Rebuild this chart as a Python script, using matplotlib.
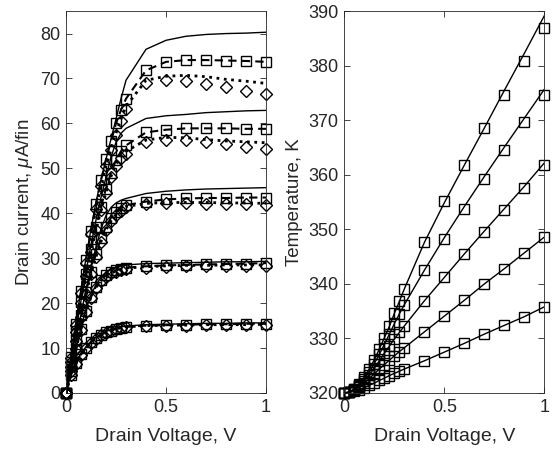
import matplotlib
matplotlib.use("Agg")
import matplotlib.pyplot as plt

plt.rcParams['font.family'] = ['Liberation Sans', 'DejaVu Sans']
plt.rcParams['mathtext.fontset'] = 'custom'
plt.rcParams['mathtext.it'] = 'Liberation Sans:italic'

# drain voltage sweep (V)
vd = [0, 0.025, 0.05, 0.075, 0.1, 0.125, 0.15, 0.175, 0.2, 0.225, 0.25, 0.275,
      0.3, 0.4, 0.5, 0.6, 0.7, 0.8, 0.9, 1.0]

# drain current (uA/fin), one entry per gate bias, lowest first
id_solid = [
    [0, 4.2, 6.8, 8.8, 10.3, 11.5, 12.4, 13.1, 13.7, 14.1, 14.5, 14.7, 14.9, 15.2, 15.3, 15.4, 15.5, 15.5, 15.6, 15.6],
    [0, 5.0, 10.0, 14.6, 18.6, 21.8, 24.1, 25.7, 26.8, 27.5, 28.0, 28.3, 28.5, 28.8, 28.9, 29.0, 29.1, 29.2, 29.2, 29.3],
    [0, 6.0, 12.0, 17.5, 23.0, 28.0, 32.5, 36.5, 39.5, 41.3, 42.3, 42.9, 43.3, 44.4, 44.9, 45.2, 45.4, 45.5, 45.6, 45.7],
    [0, 7.0, 14.0, 20.5, 27.0, 33.0, 38.5, 43.5, 48.0, 52.5, 55.8, 57.8, 58.9, 61.1, 61.7, 62.0, 62.4, 62.6, 62.8, 62.9],
    [0, 8.0, 15.5, 23.0, 30.0, 36.5, 42.5, 47.5, 52.0, 56.5, 61.0, 65.5, 69.6, 76.5, 78.5, 79.4, 79.8, 80.0, 80.1, 80.3],
]
id_square = [
    [0, 4.0, 6.6, 8.6, 10.1, 11.3, 12.2, 12.9, 13.5, 13.9, 14.3, 14.5, 14.7, 15.0, 15.1, 15.2, 15.3, 15.3, 15.4, 15.4],
    [0, 4.9, 9.8, 14.3, 18.3, 21.4, 23.7, 25.2, 26.2, 26.9, 27.3, 27.6, 27.9, 28.2, 28.4, 28.5, 28.6, 28.7, 28.8, 28.9],
    [0, 5.9, 11.8, 17.3, 22.5, 27.0, 31.0, 34.5, 37.0, 39.0, 40.3, 41.2, 41.8, 42.6, 43.1, 43.3, 43.4, 43.4, 43.5, 43.5],
    [0, 7.0, 13.8, 20.3, 26.5, 32.0, 37.0, 41.5, 45.5, 49.0, 51.8, 53.8, 55.1, 58.0, 58.6, 58.9, 58.9, 58.9, 58.8, 58.8],
    [0, 7.9, 15.3, 22.6, 29.5, 36.0, 42.0, 47.3, 52.0, 56.0, 60.0, 63.0, 65.5, 71.8, 73.7, 74.1, 74.1, 74.0, 73.9, 73.7],
]
id_diamond = [
    [0, 3.9, 6.5, 8.5, 10.0, 11.2, 12.1, 12.8, 13.4, 13.8, 14.2, 14.4, 14.6, 14.9, 15.0, 15.0, 15.1, 15.1, 15.1, 15.2],
    [0, 4.8, 9.7, 14.1, 18.1, 21.2, 23.4, 24.9, 25.9, 26.6, 27.0, 27.3, 27.6, 27.9, 28.1, 28.2, 28.2, 28.3, 28.3, 28.3],
    [0, 5.8, 11.6, 17.0, 22.0, 26.5, 30.3, 33.7, 36.3, 38.3, 39.6, 40.6, 41.3, 42.0, 42.2, 42.2, 42.1, 42.0, 42.0, 41.9],
    [0, 6.9, 13.6, 20.0, 26.0, 31.3, 36.2, 40.7, 44.5, 48.0, 50.5, 52.2, 53.2, 55.9, 56.4, 56.2, 55.9, 55.4, 54.8, 54.3],
    [0, 7.8, 15.1, 22.2, 29.0, 35.3, 41.0, 46.0, 50.5, 54.0, 57.5, 60.5, 63.3, 68.9, 69.6, 69.4, 68.7, 68.0, 67.2, 66.5],
]
id_dotted = [
    [0, 4.0, 6.6, 8.6, 10.1, 11.3, 12.2, 12.9, 13.5, 13.9, 14.3, 14.5, 14.7, 15.0, 15.1, 15.1, 15.2, 15.2, 15.2, 15.3],
    [0, 4.8, 9.8, 14.2, 18.2, 21.3, 23.5, 25.0, 26.0, 26.7, 27.1, 27.4, 27.8, 28.1, 28.3, 28.4, 28.4, 28.5, 28.5, 28.5],
    [0, 5.8, 11.6, 17.0, 22.0, 26.5, 30.3, 33.7, 36.3, 38.3, 39.7, 40.8, 41.5, 42.2, 42.4, 42.4, 42.4, 42.3, 42.3, 42.2],
    [0, 6.9, 13.6, 20.0, 26.0, 31.3, 36.2, 40.7, 44.6, 48.2, 50.9, 52.8, 53.8, 56.3, 56.9, 56.8, 56.4, 56.1, 55.9, 55.7],
    [0, 7.8, 15.1, 22.2, 29.0, 35.3, 41.0, 46.0, 50.5, 54.2, 57.8, 61.0, 63.8, 69.6, 70.5, 70.7, 70.4, 69.8, 69.4, 68.9],
]

# temperature (K)
temp_line = [
    [320, 320.1, 320.3, 320.6, 321.0, 321.4, 321.8, 322.3, 322.7, 323.2, 323.6, 324.0, 324.4, 325.9, 327.5, 329.1, 330.8, 332.4, 334.0, 335.8],
    [320, 320.1, 320.5, 321.1, 321.8, 322.7, 323.5, 324.4, 325.2, 326.0, 326.8, 327.6, 328.3, 331.2, 334.1, 337.0, 340.0, 342.8, 345.7, 348.6],
    [320, 320.1, 320.6, 321.3, 322.2, 323.3, 324.6, 325.9, 327.3, 328.6, 329.9, 331.1, 332.3, 336.9, 341.2, 345.5, 349.7, 353.8, 357.9, 362.2],
    [320, 320.2, 320.7, 321.5, 322.6, 323.9, 325.4, 327.1, 328.9, 330.8, 332.7, 334.5, 336.2, 342.5, 348.5, 354.2, 359.7, 365.1, 370.4, 375.7],
    [320, 320.2, 320.8, 321.7, 322.9, 324.4, 326.1, 328.1, 330.1, 332.2, 334.6, 336.8, 339.1, 347.6, 354.9, 361.8, 368.6, 375.5, 382.3, 389.2],
]
temp_square = [
    [320, 320.1, 320.3, 320.6, 321.0, 321.4, 321.8, 322.3, 322.7, 323.2, 323.6, 324.0, 324.4, 325.9, 327.5, 329.1, 330.8, 332.4, 334.0, 335.7],
    [320, 320.1, 320.5, 321.1, 321.8, 322.7, 323.5, 324.4, 325.2, 326.0, 326.8, 327.6, 328.3, 331.2, 334.1, 337.0, 340.0, 342.7, 345.6, 348.5],
    [320, 320.1, 320.6, 321.3, 322.2, 323.3, 324.6, 325.9, 327.3, 328.6, 329.9, 331.1, 332.3, 336.9, 341.2, 345.4, 349.5, 353.6, 357.6, 361.8],
    [320, 320.2, 320.7, 321.5, 322.6, 323.9, 325.4, 327.1, 328.9, 330.8, 332.7, 334.5, 336.2, 342.5, 348.3, 353.8, 359.2, 364.5, 369.6, 374.7],
    [320, 320.2, 320.8, 321.7, 322.9, 324.4, 326.1, 328.1, 330.1, 332.2, 334.6, 336.8, 339.1, 347.6, 355.1, 361.8, 368.5, 374.7, 380.9, 386.9],
]

axcol = '#262626'
mk = dict(markersize=7, markerfacecolor='none', markeredgecolor='k', markeredgewidth=1.0)

fig = plt.figure(figsize=(5.59, 4.53), dpi=100)
ax1 = fig.add_axes([0.118, 0.1325, 0.358, 0.843])
ax2 = fig.add_axes([0.616, 0.1325, 0.358, 0.843])

for k in range(5):
    ax1.plot(vd, id_solid[k], '-', color='k', lw=1.0)
    ax1.plot(vd, id_square[k], '--', color='k', lw=1.5, dashes=(4, 2.5))
    ax1.plot(vd, id_square[k], 'none', marker='s', clip_on=False, **mk)
    ax1.plot(vd, id_dotted[k], ':', color='k', lw=2.0)
    ax1.plot(vd, id_diamond[k], 'none', marker='D', markersize=6.5, markerfacecolor='none',
             markeredgecolor='k', markeredgewidth=1.0, clip_on=False)

for k in range(5):
    ax2.plot(vd, temp_line[k], '-', color='k', lw=1.0)
    ax2.plot(vd, temp_square[k], 'none', marker='s', clip_on=False, **mk)

ax1.set_xlim(0, 1)
ax1.set_ylim(0, 85)
ax1.set_yticks(range(0, 81, 10))
ax1.set_ylabel(r'Drain current, $\mu$A/fin', fontsize=13.5, color=axcol, labelpad=4)

ax2.set_xlim(0, 1)
ax2.set_ylim(320, 390)
ax2.set_yticks(range(320, 391, 10))
ax2.set_ylabel('Temperature, K', fontsize=13.5, color=axcol, labelpad=4)

for ax in (ax1, ax2):
    ax.set_xticks([0, 0.5, 1])
    ax.set_xticklabels(['0', '0.5', '1'])
    ax.set_xlabel('Drain Voltage, V', fontsize=14, color=axcol, labelpad=9)
    ax.tick_params(direction='in', top=True, right=True, length=4, width=0.6,
                   labelsize=13, colors=axcol, pad=4)
    for s in ax.spines.values():
        s.set_color(axcol)
        s.set_linewidth(0.6)

fig.savefig('out.png', dpi=100)
